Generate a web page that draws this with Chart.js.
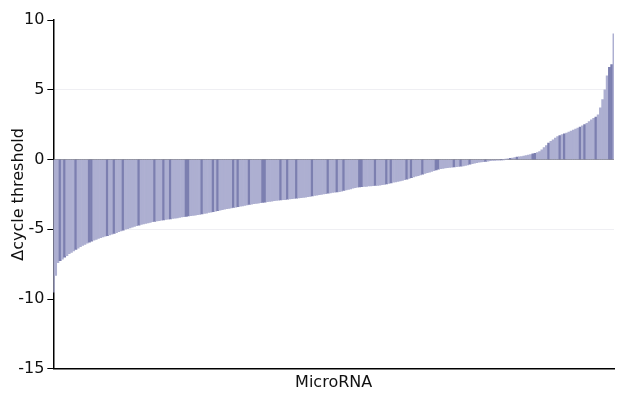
<!DOCTYPE html>
<html>
<head>
<meta charset="utf-8">
<script src="https://cdn.jsdelivr.net/npm/chart.js@4/dist/chart.umd.min.js"></script>
<style>
  html, body { margin: 0; padding: 0; background: #ffffff; }
  #wrap { width: 619px; height: 394px; }
</style>
</head>
<body>
<div id="wrap"><canvas id="c" width="619" height="394"></canvas></div>
<script>
// Δcycle threshold per microRNA, sorted ascending
const deltaCt = [
  -9.5, -8.3, -7.4, -7.25, -7.15,
  -7.0, -6.9, -6.75, -6.65, -6.55, -6.45,
  -6.35, -6.25, -6.15, -6.08, -6.0,
  -5.92, -5.85, -5.78, -5.72, -5.65,
  -5.6, -5.55, -5.5, -5.45, -5.4, -5.35,
  -5.3, -5.24, -5.18, -5.12, -5.06, -5.0,
  -4.95, -4.9, -4.85, -4.8, -4.75, -4.7,
  -4.66, -4.62, -4.58, -4.54, -4.5, -4.46, -4.43, -4.4,
  -4.38, -4.35, -4.33, -4.3, -4.28, -4.25, -4.22, -4.2, -4.18, -4.15,
  -4.12, -4.1, -4.08, -4.05, -4.03, -4.0, -3.98, -3.96, -3.94,
  -3.9, -3.87, -3.84, -3.8, -3.77, -3.74, -3.7, -3.67, -3.63, -3.6, -3.56,
  -3.53, -3.5, -3.47, -3.44, -3.41, -3.38, -3.35, -3.32, -3.29, -3.26, -3.22,
  -3.2, -3.17, -3.15, -3.12, -3.1, -3.07, -3.05, -3.02, -3.0, -2.98, -2.95,
  -2.93, -2.92, -2.9, -2.88, -2.87, -2.85, -2.83, -2.81, -2.79, -2.77, -2.76, -2.74,
  -2.72, -2.69, -2.66, -2.64, -2.61, -2.58, -2.55, -2.52, -2.5, -2.47, -2.44, -2.42, -2.39, -2.36, -2.34, -2.32, -2.3,
  -2.26, -2.22, -2.18, -2.14, -2.1, -2.06, -2.02, -1.99, -1.96,
  -1.94, -1.93, -1.92, -1.9, -1.89, -1.88, -1.86, -1.85, -1.83, -1.81, -1.79,
  -1.75, -1.71, -1.67, -1.63, -1.6, -1.57, -1.54,
  -1.5, -1.45, -1.4, -1.35, -1.3, -1.25, -1.2,
  -1.15, -1.1, -1.05, -1.0, -0.95, -0.9, -0.85, -0.8, -0.75, -0.7, -0.65,
  -0.63, -0.61, -0.59, -0.57, -0.55, -0.53, -0.51, -0.49, -0.47, -0.45,
  -0.42, -0.38, -0.34, -0.3, -0.26, -0.22, -0.19,
  -0.17, -0.15, -0.13, -0.11, -0.09, -0.07, -0.06, -0.05,
  -0.04, -0.03, -0.02, 0.02, 0.05, 0.08,
  0.11, 0.14, 0.17, 0.19, 0.21,
  0.25, 0.29, 0.32, 0.35,
  0.4, 0.45, 0.5, 0.57,
  0.7, 0.85, 1.0, 1.17,
  1.3, 1.42, 1.54, 1.65,
  1.72, 1.78, 1.84, 1.9,
  1.97, 2.04, 2.11, 2.18, 2.25,
  2.33, 2.41, 2.5, 2.6,
  2.72, 2.84, 2.95,
  3.05, 3.2, 3.7,
  4.3, 5.0, 6.0, 6.6, 6.8, 9.0
];
// microRNA names are not printed in the reference; one unlabeled category per bar
const categories = deltaCt.map(() => '');
const yTicks = [-15, -10, -5, 0, 5, 10];
const xTitle = 'MicroRNA';
const yTitle = 'Δcycle threshold';

const FONT = '"DejaVu Sans", Verdana, sans-serif';

new Chart(document.getElementById('c'), {
  type: 'bar',
  data: {
    labels: categories,
    datasets: [{
      data: deltaCt,
      backgroundColor: (ctx) => (ctx.dataIndex % 7 === 3 || ctx.dataIndex % 11 === 5) ? '#7c7fb0' : '#adafd1',
      borderWidth: 0,
      barPercentage: 1.0,
      categoryPercentage: 1.0
    }]
  },
  options: {
    responsive: false,
    animation: false,
    devicePixelRatio: 1,
    layout: { padding: { top: 20, right: 5, left: 0, bottom: 2 } },
    plugins: {
      legend: { display: false },
      tooltip: { enabled: false }
    },
    scales: {
      x: {
        type: 'category',
        offset: false,
        grid: { display: false, drawTicks: false },
        border: { display: true, color: '#000', width: 1.5 },
        ticks: { display: false },
        title: {
          display: true,
          text: xTitle,
          color: '#111',
          font: { family: FONT, size: 16 },
          padding: { top: 4, bottom: 0 }
        }
      },
      y: {
        min: -15,
        max: 10,
        z: 1,
        afterBuildTicks: (axis) => { axis.ticks = yTicks.map(v => ({ value: v })); },
        grid: {
          drawOnChartArea: true,
          color: (ctx) => {
            const v = ctx.tick && ctx.tick.value;
            if (v === 0) return 'rgba(90,90,100,0.7)';
            if (v === 5 || v === -5) return 'rgba(50,50,100,0.08)';
            return 'rgba(0,0,0,0)';
          },
          tickColor: '#000',
          tickLength: 6,
          lineWidth: 1
        },
        border: { display: true, color: '#000', width: 1.5 },
        ticks: {
          color: '#111',
          font: { family: FONT, size: 16 },
          padding: 3
        },
        title: {
          display: true,
          text: yTitle,
          color: '#111',
          font: { family: FONT, size: 16 },
          padding: { top: 9, bottom: -13 }
        }
      }
    }
  }
});
</script>
</body>
</html>
